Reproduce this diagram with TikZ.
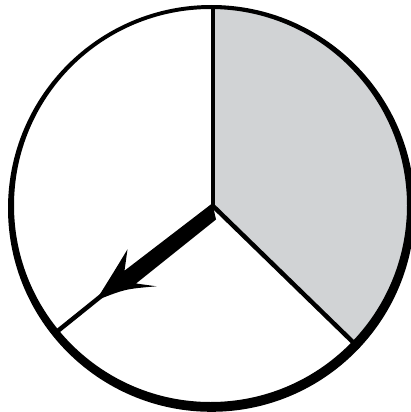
\documentclass[tikz,border=0pt]{standalone}
\definecolor{sectorgray}{RGB}{209,211,213}
\tikzset{
  spoke/.style={line width=4.5pt, black},
  ring/.style={fill=black, even odd rule},
  pointer/.style={fill=black}
}
\begin{document}
\begin{tikzpicture}[x=1pt,y=-1pt]
\useasboundingbox (0,0) rectangle (410,412);
\coordinate (c) at (213,206);
\coordinate (top) at (213,6);
\coordinate (lr) at (359,348);
\coordinate (ll) at (54,334);
% gray sector
\begin{scope}
  \clip (210.5,205.5) circle[radius=197];
  \fill[sectorgray] (c) -- (213,-10) -- (450,-10) -- (450,436.4) -- cycle;
\end{scope}
% spokes
\draw[spoke] (c) -- (top);
\draw[spoke] (c) -- (lr);
\draw[spoke] (c) -- (ll);
% pointer arrow
\fill[pointer] (211.5,204) -- (124.5,270.7) -- (127.5,249.3)
  .. controls (115,270) .. (96,300.5)
  .. controls (125,289) .. (156.5,286.3)
  -- (136,283.5) -- (216,219.5) -- (c) -- cycle;
% ring with heavier lower-right edge
\fill[ring] (211.4,208.4) circle[radius=203.4] (210.5,205.5) circle[radius=196.5];
\end{tikzpicture}
\end{document}
